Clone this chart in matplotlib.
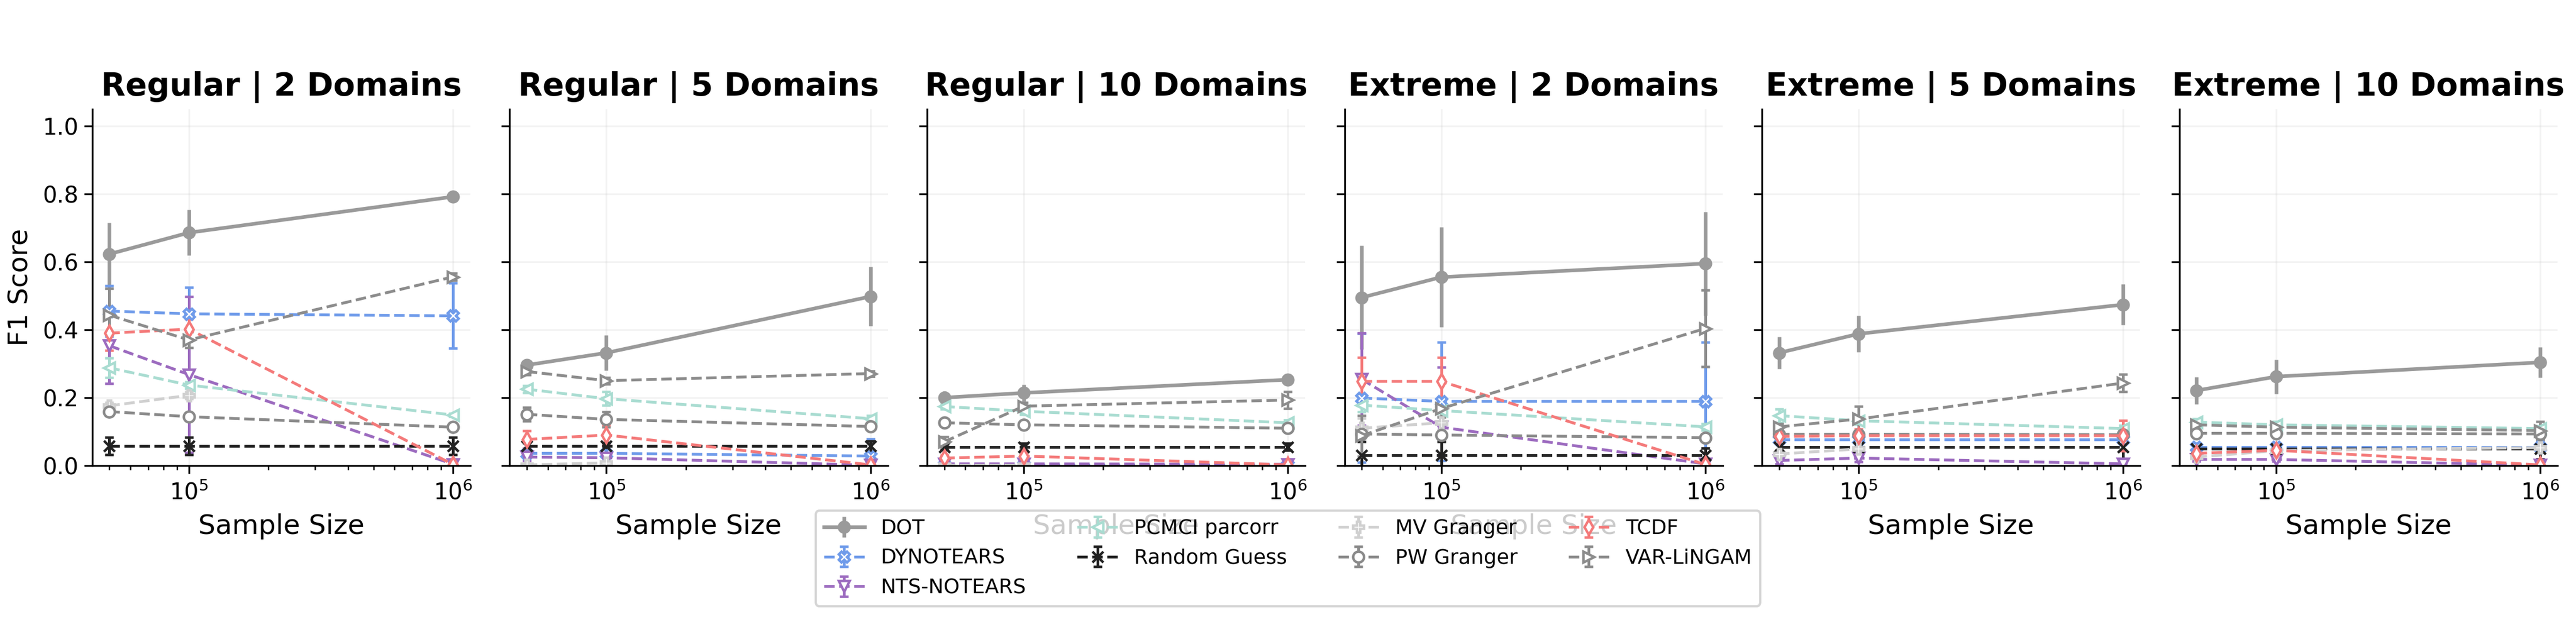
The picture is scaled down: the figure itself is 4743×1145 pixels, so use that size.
import numpy as np
import matplotlib
matplotlib.use("Agg")
import matplotlib.pyplot as plt

nan = np.nan

# x positions (sample sizes) and panel titles
sample_sizes = [5e4, 1e5, 1e6]
panel_titles = [
    "Regular | 2 Domains", "Regular | 5 Domains", "Regular | 10 Domains",
    "Extreme | 2 Domains", "Extreme | 5 Domains", "Extreme | 10 Domains",
]
method_names = [
    "DOT", "DYNOTEARS", "NTS-NOTEARS", "PCMCI parcorr", "Random Guess",
    "MV Granger", "PW Granger", "TCDF", "VAR-LiNGAM",
]

# F1 means, one row per panel
dot_f1 = [[0.623, 0.686, 0.792], [0.296, 0.332, 0.498], [0.200, 0.214, 0.253],
          [0.495, 0.555, 0.595], [0.332, 0.388, 0.474], [0.221, 0.262, 0.304]]
dynotears_f1 = [[0.455, 0.447, 0.441], [0.036, 0.036, 0.028], [0.001, 0.001, 0.001],
                [0.199, 0.189, 0.189], [0.077, 0.077, 0.077], [0.055, 0.055, 0.055]]
nts_f1 = [[0.353, 0.268, 0.004], [0.025, 0.023, 0.001], [0.005, 0.005, 0.004],
          [0.254, 0.113, 0.005], [0.015, 0.022, 0.005], [0.018, 0.018, 0.001]]
pcmci_f1 = [[0.288, 0.237, 0.149], [0.225, 0.197, 0.138], [0.174, 0.160, 0.126],
            [0.178, 0.162, 0.114], [0.147, 0.132, 0.109], [0.128, 0.120, 0.109]]
random_f1 = [[0.058, 0.058, 0.058], [0.057, 0.057, 0.057], [0.055, 0.055, 0.055],
             [0.031, 0.031, 0.031], [0.055, 0.055, 0.055], [0.049, 0.049, 0.049]]
mv_f1 = [[0.176, 0.207, nan], [0.002, 0.008, nan], [0.001, 0.001, nan],
         [0.110, 0.126, nan], [0.034, 0.049, nan], [0.025, 0.044, 0.053]]
pw_f1 = [[0.159, 0.144, 0.113], [0.151, 0.136, 0.115], [0.126, 0.120, 0.110],
         [0.093, 0.090, 0.082], [0.092, 0.092, 0.091], [0.095, 0.095, 0.093]]
tcdf_f1 = [[0.390, 0.402, 0.003], [0.077, 0.090, 0.002], [0.022, 0.028, 0.002],
           [0.248, 0.248, 0.003], [0.086, 0.088, 0.088], [0.036, 0.045, 0.002]]
varlingam_f1 = [[0.443, 0.370, 0.556], [0.277, 0.250, 0.271], [0.070, 0.175, 0.193],
                [0.088, 0.168, 0.404], [0.114, 0.137, 0.243], [0.120, 0.113, 0.103]]

# error bar half-widths, one row per panel
dot_err = [[0.092, 0.067, 0.004], [0.010, 0.052, 0.087], [0.020, 0.025, 0.012],
           [0.153, 0.147, 0.153], [0.047, 0.054, 0.060], [0.040, 0.050, 0.045]]
dynotears_err = [[0.074, 0.078, 0.096], [0.010, 0.030, 0.050], [0.002, 0.002, 0.002],
                 [0.190, 0.175, 0.175], [0.010, 0.010, 0.010], [0.010, 0.010, 0.015]]
nts_err = [[0.112, 0.230, 0.002], [0.010, 0.010, 0.001], [0.005, 0.005, 0.005],
           [0.136, 0.176, 0.005], [0.010, 0.010, 0.005], [0.005, 0.005, 0.002]]
pcmci_err = [[0.029, 0.010, 0.005], [0.010, 0.020, 0.010], [0.008, 0.010, 0.008],
             [0.020, 0.015, 0.010], [0.020, 0.010, 0.010], [0.010, 0.010, 0.008]]
random_err = [[0.026, 0.026, 0.026], [0.010, 0.010, 0.015], [0.008, 0.010, 0.010],
              [0.040, 0.040, 0.020], [0.010, 0.010, 0.035], [0.010, 0.010, 0.030]]
mv_err = [[0.010, 0.010, nan], [0.002, 0.005, nan], [0.002, 0.002, nan],
          [0.030, 0.020, nan], [0.005, 0.005, nan], [0.005, 0.005, 0.010]]
pw_err = [[0.008, 0.010, 0.008], [0.020, 0.022, 0.010], [0.005, 0.005, 0.005],
          [0.010, 0.010, 0.010], [0.010, 0.010, 0.010], [0.010, 0.010, 0.010]]
tcdf_err = [[0.050, 0.030, 0.002], [0.025, 0.030, 0.002], [0.008, 0.010, 0.002],
            [0.070, 0.070, 0.002], [0.020, 0.020, 0.045], [0.015, 0.020, 0.002]]
varlingam_err = [[0.078, 0.023, 0.010], [0.010, 0.010, 0.008], [0.015, 0.010, 0.025],
                 [0.060, 0.025, 0.113], [0.010, 0.037, 0.026], [0.010, 0.010, 0.027]]

all_f1 = [dot_f1, dynotears_f1, nts_f1, pcmci_f1, random_f1, mv_f1, pw_f1, tcdf_f1, varlingam_f1]
all_err = [dot_err, dynotears_err, nts_err, pcmci_err, random_err, mv_err, pw_err, tcdf_err, varlingam_err]

# styles
colors = ["#9a9a9a", "#6f9bea", "#9c6bbf", "#a9dcd1", "#222222",
          "#d0d0d0", "#8a8a8a", "#f47a7a", "#8c8c8c"]
markers = ["o", "X", "v", "<", "x", "P", "o", "d", ">"]

fig, axes = plt.subplots(1, 6, figsize=(15.81, 3.817), dpi=300, sharey=True)
fig.subplots_adjust(left=0.0358, right=0.9928, top=0.8245, bottom=0.2515, wspace=0.104)

for p, ax in enumerate(axes):
    for m, name in enumerate(method_names):
        y = np.array(all_f1[m][p], dtype=float)
        e = np.array(all_err[m][p], dtype=float)
        if name == "DOT":
            ax.errorbar(sample_sizes, y, yerr=e, color=colors[m], marker="o",
                        markersize=4.8, linestyle="-", linewidth=1.6,
                        elinewidth=1.6, capsize=0, label=name, zorder=2)
        else:
            face = colors[m] if name == "Random Guess" else "white"
            ax.errorbar(sample_sizes, y, yerr=e, color=colors[m], marker=markers[m],
                        markersize=4.8, markerfacecolor=face,
                        markeredgecolor=colors[m], markeredgewidth=1.1,
                        linestyle="--", linewidth=1.25, elinewidth=1.2,
                        capsize=2, capthick=1.1, label=name, zorder=2)
    ax.set_xscale("log")
    ax.set_ylim(0, 1.05)
    ax.set_title(panel_titles[p], fontsize=14, fontweight="bold")
    ax.set_xlabel("Sample Size", fontsize=12)
    ax.tick_params(axis="both", labelsize=10)
    ax.tick_params(axis="y", pad=2.5)
    ax.grid(True, alpha=0.15)
    ax.spines["top"].set_visible(False)
    ax.spines["right"].set_visible(False)

axes[0].set_ylabel("F1 Score", fontsize=12)
axes[0].set_yticks([0.0, 0.2, 0.4, 0.6, 0.8, 1.0])

handles, labels = axes[0].get_legend_handles_labels()
fig.legend(handles, labels, loc="upper center", bbox_to_anchor=(0.5, 0.179),
           borderaxespad=0, ncol=4, fontsize=9, columnspacing=2.5)

fig.savefig("out.png", dpi=300)
